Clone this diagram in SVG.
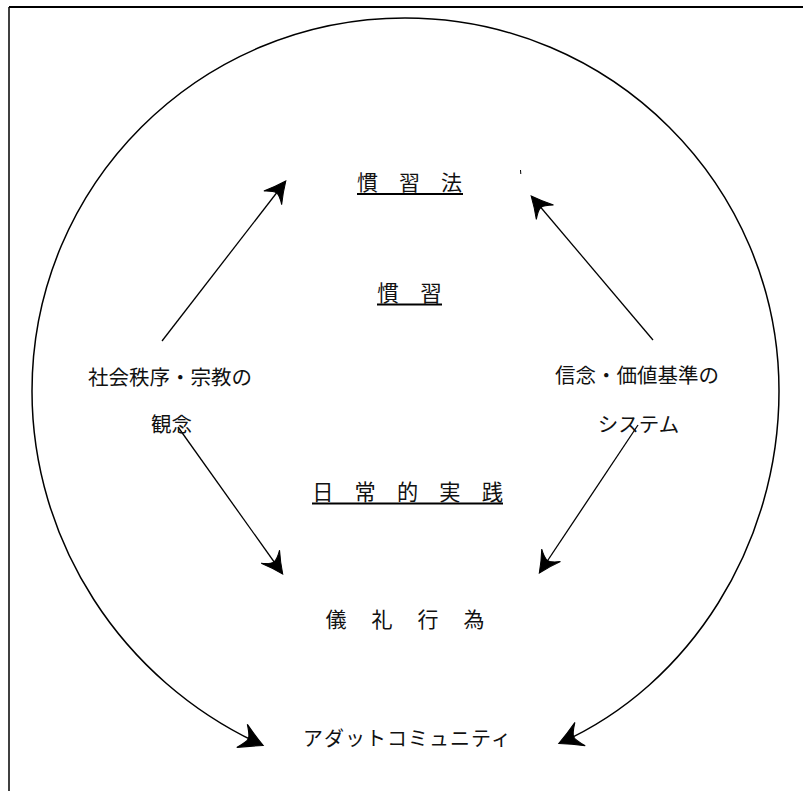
<svg xmlns="http://www.w3.org/2000/svg" width="803" height="791" viewBox="0 0 803 791">
<style>
text{font-family:"Noto Sans CJK JP","Noto Sans CJK SC",sans-serif;font-size:20.5px;fill:#111;text-anchor:middle}
.ln{stroke:#000;stroke-width:1.3;fill:none}
.arc{stroke:#000;stroke-width:1.5;fill:none}
.ul{stroke:#000;stroke-width:2.2}
</style>
<defs>
<marker id="ah" markerUnits="userSpaceOnUse" markerWidth="30" markerHeight="30" viewBox="-20 -10 24 20" refX="0" refY="0" orient="auto" overflow="visible">
<path d="M1,0 Q-8,-4 -16,-9 Q-11,-3 -11,0 Q-11,3 -16,9 Q-8,4 1,0 Z" fill="#000" stroke="#000" stroke-width="0.8"/>
</marker>
<marker id="ahb" markerUnits="userSpaceOnUse" markerWidth="30" markerHeight="30" viewBox="-22 -12 26 24" refX="0" refY="0" orient="auto" overflow="visible">
<path d="M1,0 Q-9,-5 -19,-11 Q-13,-3 -13,0 Q-13,3 -19,11 Q-9,5 1,0 Z" fill="#000" stroke="#000" stroke-width="1"/>
</marker>
</defs>
<g id="frame">
<line x1="9" y1="7" x2="803" y2="7" stroke="#000" stroke-width="2"/>
<line x1="9" y1="7" x2="9" y2="791" stroke="#000" stroke-width="1.5"/>
</g>
<g id="connectors">
<path class="arc" d="M405,18 C199,18 32,185 32,391 C32,540 120,680 262,745" marker-end="url(#ahb)"/>
<path class="arc" d="M405,18 C611,18 779,185 779,391 C779,545 690,685 560,743" marker-end="url(#ahb)"/>
<line class="ln" x1="162" y1="341" x2="285" y2="182" marker-end="url(#ah)"/>
<line class="ln" x1="653" y1="340" x2="532" y2="197" marker-end="url(#ah)"/>
<line class="ln" x1="178" y1="427" x2="282" y2="573" marker-end="url(#ah)"/>
<line class="ln" x1="638" y1="425" x2="540" y2="572" marker-end="url(#ah)"/>
<line x1="520.5" y1="170" x2="520.8" y2="174" stroke="#000" stroke-width="1"/>
</g>
<g id="kanshuho">
<text x="409.5" y="190" style="font-size:21px">慣　習　法</text>
<line class="ul" x1="357" y1="194" x2="463" y2="194"/>
</g>
<g id="kanshu">
<text x="409.5" y="301" style="font-size:21.5px">慣　習</text>
<line class="ul" x1="377" y1="304.5" x2="442" y2="304.5"/>
</g>
<g id="shakai">
<text x="170" y="385">社会秩序・宗教の</text>
<text x="171.5" y="432">観念</text>
</g>
<g id="shinnen">
<text x="637" y="383">信念・価値基準の</text>
<text x="638.5" y="432">システム</text>
</g>
<g id="nichijo">
<text x="407.5" y="500" style="font-size:21.2px">日　常　的　実　践</text>
<line class="ul" x1="312" y1="503.5" x2="503" y2="503.5"/>
</g>
<g id="girei">
<text x="406" y="627" style="font-size:21px;letter-spacing:2px">儀　礼　行　為</text>
</g>
<g id="adat">
<text x="407.5" y="746" style="font-size:20px;letter-spacing:1px">アダットコミュニティ</text>
</g>
</svg>
